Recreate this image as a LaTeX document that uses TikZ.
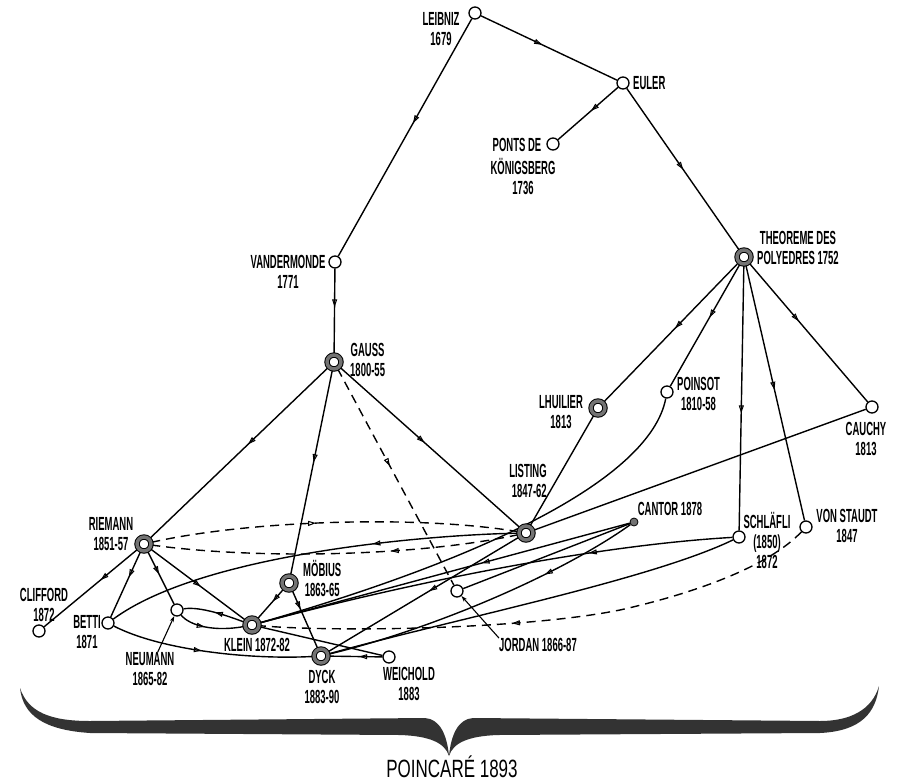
\documentclass[tikz,border=0pt]{standalone}
\usepackage{fontspec}
\newfontfamily\lab[FakeStretch=0.5]{Liberation Sans}
\newfontfamily\pfont[FakeStretch=0.68]{Liberation Sans}
\usetikzlibrary{arrows.meta,decorations.markings}
\pgfdeclarelayer{bg}
\pgfsetlayers{bg,main}
\tikzset{
  pt/.style={circle,draw,fill=white,minimum size=12pt,inner sep=0pt,line width=1.3pt},
  big/.style={circle,draw=black,double=black!55,double distance=3.4pt,line width=1pt,fill=white,minimum size=14pt,inner sep=0pt},
  dotnode/.style={circle,draw=black,fill=black!55,minimum size=8pt,inner sep=0pt,line width=0.8pt},
  lab/.style={font=\lab\bfseries\fontsize{19}{20}\selectfont,inner sep=0pt,align=center},
  edge/.style={line width=1.4pt},
  dsh/.style={line width=1.4pt,dash pattern=on 9pt off 6pt},
  arr/.style={postaction={decorate},decoration={markings,mark=at position #1 with {\arrow{Triangle[open,length=8pt,width=5pt,line width=1pt]}}}},
  ptr/.style={line width=1.1pt,-{Stealth[length=6pt,width=4pt]}}
}
\begin{document}
\begin{tikzpicture}[x=1pt,y=-1pt]
\useasboundingbox (0,0) rectangle (897,782);
% nodes
\node[pt] (leibniz) at (475,13) {};
\node[pt] (euler) at (623,83) {};
\node[pt] (ponts) at (553,144) {};
\node[pt] (vander) at (335,262) {};
\node[big] (gauss) at (334,362) {};
\node[big] (theo) at (744,257) {};
\node[big] (lhuilier) at (598,408) {};
\node[pt] (poinsot) at (667,392) {};
\node[pt] (cauchy) at (872,407) {};
\node[big] (listing) at (526,533) {};
\node[dotnode] (cantor) at (634,522) {};
\node[pt] (schlafli) at (739,537) {};
\node[pt] (staudt) at (806,527) {};
\node[big] (riemann) at (144,544) {};
\node[pt] (clifford) at (39,631) {};
\node[pt] (betti) at (108,623) {};
\node[pt] (neumann) at (177,610) {};
\node[big] (klein) at (252,625) {};
\node[big] (mobius) at (289,583) {};
\node[big] (dyck) at (321,656) {};
\node[pt] (weichold) at (389,657) {};
\node[pt] (jordan) at (457,591) {};
% labels
\node[lab] (leibnizl) at (441,29) {LEIBNIZ\\1679};
\node[lab,anchor=west] (eulerl) at (633,83) {EULER};
\node[lab] (pontsl1) at (517,145) {PONTS DE};
\node[lab] (pontsl2) at (523,176) {KÖNIGSBERG\\1736};
\node[lab] (vanderl) at (288,272) {VANDERMONDE\\1771};
\node[lab,anchor=west] (gaussl) at (350,360) {GAUSS\\1800-55};
\node[lab,anchor=west] (theol) at (757,248) {THEOREME DES\\POLYEDRES 1752};
\node[lab] (lhuilierl) at (561,412) {LHUILIER\\1813};
\node[lab,anchor=west] (poinsotl) at (677,394) {POINSOT\\1810-58};
\node[lab] (cauchyl) at (866,439) {CAUCHY\\1813};
\node[lab] (listingl) at (528,481) {LISTING\\\ 1847-62};
\node[lab] (cantorl) at (670,509) {CANTOR 1878};
\node[lab] (schlaflil) at (767,540) {SCHLÄFLI\\(1850)\\1872};
\node[lab] (staudtl) at (847,526) {VON STAUDT\\1847};
\node[lab] (riemannl) at (111,534) {RIEMANN\\1851-57};
\node[lab] (cliffordl) at (44,605) {CLIFFORD\\1872};
\node[lab] (bettil) at (87,632) {BETTI\\1871};
\node[lab] (neumannl) at (150,669) {NEUMANN\\1865-82};
\node[lab] (kleinl) at (257,645) {KLEIN 1872-82};
\node[lab,anchor=west] (mobiusl) at (303,578) {MÖBIUS\\1863-65};
\node[lab] (dyckl) at (322,687) {DYCK\\1883-90};
\node[lab] (weicholdl) at (409,684) {WEICHOLD\\1883};
\node[lab] (jordanl) at (538,645) {JORDAN 1866-87};
\node[font=\pfont\fontsize{25}{27}\selectfont,inner sep=0pt] (poincare) at (452,767) {POINCARÉ 1893};
% edges
\begin{pgfonlayer}{bg}
\draw[edge,arr=0.45] (leibniz) -- (euler);
\draw[edge,arr=0.44] (leibniz) -- (vander);
\draw[edge,arr=0.45] (euler) -- (ponts);
\draw[edge,arr=0.5] (euler) -- (theo);
\draw[edge,arr=0.45] (vander) -- (gauss);
\draw[edge,arr=0.45] (gauss) -- (riemann);
\draw[edge,arr=0.45] (gauss) -- (mobius);
\draw[dsh,arr=0.45] (gauss) -- (jordan);
\draw[edge,arr=0.47] (gauss) -- (listing);
\draw[edge,arr=0.47] (theo) -- (lhuilier);
\draw[edge,arr=0.44] (theo) -- (poinsot);
\draw[edge,arr=0.56] (theo) -- (schlafli);
\draw[edge,arr=0.49] (theo) -- (staudt);
\draw[edge,arr=0.42] (theo) -- (cauchy);
\draw[edge] (lhuilier) -- (listing);
\draw[edge] (cauchy) -- (listing);
\draw[edge,arr=0.4] (riemann) -- (clifford);
\draw[edge,arr=0.4] (riemann) -- (betti);
\draw[edge,arr=0.44] (riemann) -- (neumann);
\draw[edge,arr=0.53] (riemann) -- (klein);
\draw[edge,arr=0.42] (mobius) -- (klein);
\draw[edge,arr=0.33] (mobius) -- (dyck);
\draw[edge,arr=0.43] (weichold) -- (dyck);
\draw[edge] (klein) -- (weichold);
\draw[edge,arr=0.5] (klein) .. controls (228,616) and (200,606) .. (neumann);
\draw[edge,arr=0.4] (neumann) .. controls (190,626) and (215,632) .. (klein);
\draw[edge,arr=0.45] (betti) .. controls (160,650) and (250,660) .. (dyck);
\draw[edge,arr=0.35] (listing) .. controls (420,535) and (200,555) .. (betti);
\draw[dsh,arr=0.45] (riemann) .. controls (250,520) and (420,515) .. (listing);
\draw[dsh,arr=0.35] (listing) .. controls (420,556) and (260,560) .. (riemann);
\draw[edge,arr=0.47] (listing) -- (dyck);
\draw[edge,arr=0.4] (cantor) -- (klein);
\draw[edge] (jordan) -- (cantor);
\draw[edge,arr=0.3] (cantor) .. controls (560,575) and (430,630) .. (dyck);
\draw[edge,arr=0.3] (schlafli) .. controls (600,545) and (420,580) .. (klein);
\draw[edge] (schlafli) .. controls (650,580) and (450,620) .. (dyck);
\draw[edge] (poinsot) .. controls (650,480) and (480,560) .. (klein);
\draw[dsh,arr=0.55] (staudt) .. controls (770,565) and (700,592) .. (620,610) .. controls (520,630) and (330,632) .. (klein);
\draw[ptr] (neumannl) -- (neumann);
\draw[ptr] (jordanl.north west) -- (jordan);
% brace
\fill[black!80] (20,688) .. controls (23,716) and (45,730) .. (90,733) -- (400,735) .. controls (430,736) and (445,743) .. (449,756)
  .. controls (447,735) and (440,719) .. (425,718) -- (90,721) .. controls (50,721) and (28,712) .. (20,688) -- cycle;
\fill[black!80] (449,756) .. controls (453,743) and (468,736) .. (498,735) -- (820,733) .. controls (862,731) and (876,712) .. (879,686)
  .. controls (872,710) and (850,721) .. (820,721) -- (473,718) .. controls (458,719) and (451,735) .. (449,756) -- cycle;
\end{pgfonlayer}
\end{tikzpicture}
\end{document}
